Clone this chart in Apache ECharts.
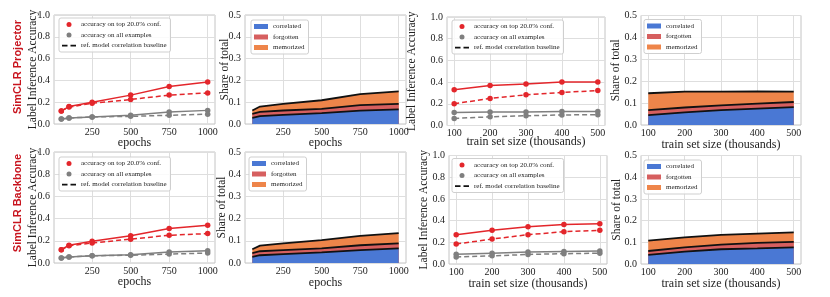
<!DOCTYPE html>
<html>
<head>
<meta charset="utf-8">
<script src="https://cdn.jsdelivr.net/npm/echarts@6/dist/echarts.min.js"></script>
<style>
html,body{margin:0;padding:0;background:#fff;overflow:hidden;}
#chart{width:830px;height:297px;}
</style>
</head>
<body>
<div id="chart"></div>
<script>
// ---------- data ----------
const epochs = [50, 100, 250, 500, 750, 1000];
const trainSizes = [100, 200, 300, 400, 500];
const epochTicks = [250, 500, 750, 1000];
const trainTicks = [100, 200, 300, 400, 500];

// SimCLR Projector, vs epochs
const projEpTop = [0.12, 0.16, 0.20, 0.265, 0.345, 0.385];
const projEpTopBase = [0.12, 0.155, 0.19, 0.225, 0.265, 0.285];
const projEpAll = [0.045, 0.055, 0.065, 0.08, 0.11, 0.125];
const projEpAllBase = [0.045, 0.055, 0.065, 0.07, 0.08, 0.09];
const projEpCorrelated = [0.028, 0.036, 0.042, 0.050, 0.061, 0.067];
const projEpForgotten = [0.019, 0.020, 0.020, 0.019, 0.026, 0.025];
const projEpMemorized = [0.015, 0.024, 0.030, 0.040, 0.050, 0.058];

// SimCLR Projector, vs train set size
const projTrTop = [0.33, 0.368, 0.383, 0.40, 0.40];
const projTrTopBase = [0.20, 0.25, 0.283, 0.305, 0.322];
const projTrAll = [0.12, 0.125, 0.125, 0.128, 0.128];
const projTrAllBase = [0.065, 0.08, 0.09, 0.097, 0.10];
const projTrCorrelated = [0.045, 0.058, 0.068, 0.075, 0.082];
const projTrForgotten = [0.023, 0.022, 0.022, 0.023, 0.023];
const projTrMemorized = [0.077, 0.072, 0.062, 0.055, 0.047];

// SimCLR Backbone, vs epochs
const bbEpTop = [0.12, 0.16, 0.195, 0.245, 0.31, 0.34];
const bbEpTopBase = [0.12, 0.155, 0.18, 0.215, 0.25, 0.265];
const bbEpAll = [0.045, 0.055, 0.065, 0.075, 0.10, 0.11];
const bbEpAllBase = [0.045, 0.055, 0.065, 0.07, 0.08, 0.09];
const bbEpCorrelated = [0.028, 0.035, 0.040, 0.048, 0.058, 0.066];
const bbEpForgotten = [0.017, 0.018, 0.018, 0.018, 0.022, 0.022];
const bbEpMemorized = [0.017, 0.025, 0.030, 0.037, 0.042, 0.047];

// SimCLR Backbone, vs train set size
const bbTrTop = [0.27, 0.31, 0.343, 0.365, 0.37];
const bbTrTopBase = [0.184, 0.23, 0.27, 0.298, 0.31];
const bbTrAll = [0.09, 0.10, 0.11, 0.115, 0.12];
const bbTrAllBase = [0.065, 0.075, 0.088, 0.095, 0.10];
const bbTrCorrelated = [0.042, 0.057, 0.068, 0.072, 0.077];
const bbTrForgotten = [0.018, 0.020, 0.021, 0.025, 0.025];
const bbTrMemorized = [0.048, 0.046, 0.045, 0.043, 0.044];

const rowLabels = ['SimCLR Projector', 'SimCLR Backbone'];
const NAME_TOP = 'accuracy on top 20.0% conf.';
const NAME_ALL = 'accuracy on all examples';
const NAME_BASE = 'ref. model correlation baseline';
const NAME_COR = 'correlated', NAME_FOR = 'forgotten', NAME_MEM = 'memorized';

// ---------- styles ----------
const SERIF = '"Liberation Serif","DejaVu Serif",serif';
const RED = '#e3262b', GRAY = '#7f7f7f';
const BLUE = '#4a78d4', ROSE = '#d65f5f', ORANGE = '#ee854a';
const DASH_ICON = 'path://M0,0L0,5L0,0Z M0,1.7h5.5v1.7h-5.5z M8.5,1.7h5.5v1.7h-5.5z';

const panels = [
  {kind:'acc', xs:epochs, ticks:epochTicks, xmin:2.5, xmax:1047.5, xname:'epochs', yGap:15, xGap:13,
   g:{left:54, top:15, width:161, height:109}, lg:{left:59, top:18},
   d:[projEpTop, projEpTopBase, projEpAll, projEpAllBase]},
  {kind:'share', xs:epochs, ticks:epochTicks, xmin:2.5, xmax:1047.5, xname:'epochs', yGap:14, xGap:13,
   g:{left:245, top:15, width:161, height:109}, lg:{left:251, top:20},
   d:[projEpCorrelated, projEpForgotten, projEpMemorized]},
  {kind:'acc', xs:trainSizes, ticks:trainTicks, xmin:80, xmax:520, xname:'train set size (thousands)', yGap:29, xGap:10.5,
   g:{left:447, top:17, width:158, height:108.5}, lg:{left:452, top:20},
   d:[projTrTop, projTrTopBase, projTrAll, projTrAllBase]},
  {kind:'share', xs:trainSizes, ticks:trainTicks, xmin:80, xmax:520, xname:'train set size (thousands)', yGap:19, xGap:13.5,
   g:{left:641, top:15.5, width:160, height:109.5}, lg:{left:644, top:19.5},
   d:[projTrCorrelated, projTrForgotten, projTrMemorized]},
  {kind:'acc', xs:epochs, ticks:epochTicks, xmin:2.5, xmax:1047.5, xname:'epochs', yGap:15, xGap:13,
   g:{left:54, top:152, width:161, height:111}, lg:{left:59, top:157},
   d:[bbEpTop, bbEpTopBase, bbEpAll, bbEpAllBase]},
  {kind:'share', xs:epochs, ticks:epochTicks, xmin:2.5, xmax:1047.5, xname:'epochs', yGap:17.5, xGap:14,
   g:{left:245, top:152, width:161, height:111}, lg:{left:249, top:157},
   d:[bbEpCorrelated, bbEpForgotten, bbEpMemorized]},
  {kind:'acc', xs:trainSizes, ticks:trainTicks, xmin:80, xmax:520, xname:'train set size (thousands)', yGap:19.5, xGap:14,
   g:{left:449, top:155.5, width:158, height:108.5}, lg:{left:452, top:158.5},
   d:[bbTrTop, bbTrTopBase, bbTrAll, bbTrAllBase]},
  {kind:'share', xs:trainSizes, ticks:trainTicks, xmin:80, xmax:520, xname:'train set size (thousands)', yGap:18, xGap:13.5,
   g:{left:641, top:155.5, width:160, height:108.5}, lg:{left:644, top:160},
   d:[bbTrCorrelated, bbTrForgotten, bbTrMemorized]}
];

const grid = [], xAxis = [], yAxis = [], legend = [], series = [];
const pair = (xs, ys) => xs.map((x, i) => [x, ys[i]]);
const cumsum = (...layers) => layers[0].map((_, i) => layers.reduce((s, l) => s + l[i], 0));

panels.forEach((p, i) => {
  grid.push(Object.assign({show:true, borderColor:'#c4c4c4', borderWidth:1, backgroundColor:'#fff'}, p.g));
  xAxis.push({
    type:'value', gridIndex:i, min:p.xmin, max:p.xmax,
    axisLine:{show:false}, axisTick:{show:false, customValues:p.ticks},
    splitLine:{show:true, lineStyle:{color:'#dedede', width:1}},
    axisLabel:{customValues:p.ticks, formatter:v => String(v), fontFamily:SERIF, fontSize:10, color:'#222', margin:3},
    name:p.xname, nameLocation:'middle', nameGap:p.xGap, nameMoveOverlap:false,
    nameTextStyle:{fontFamily:SERIF, fontSize:12, color:'#222'}
  });
  const isAcc = p.kind === 'acc';
  yAxis.push({
    type:'value', gridIndex:i, min:0, max:isAcc ? 1 : 0.5, interval:isAcc ? 0.2 : 0.1,
    axisLine:{show:false}, axisTick:{show:false},
    splitLine:{show:true, lineStyle:{color:'#dedede', width:1}},
    axisLabel:{formatter:v => v.toFixed(1), fontFamily:SERIF, fontSize:10, color:'#222', margin:4},
    name:isAcc ? 'Label Inference Accuracy' : 'Share of total', nameLocation:'middle',
    nameGap:p.yGap, nameMoveOverlap:false,
    nameTextStyle:{fontFamily:SERIF, fontSize:11.5, color:'#222'}
  });
  const lgBase = {
    orient:'vertical', left:p.lg.left, top:p.lg.top, itemWidth:14, itemHeight:5, itemGap:3.5,
    padding:[3,4,3,3], borderColor:'#cfcfcf', borderWidth:1, borderRadius:2,
    backgroundColor:'rgba(255,255,255,0.85)', selectedMode:false,
    textStyle:{fontFamily:SERIF, fontSize:7, color:'#222'}
  };
  if (isAcc) {
    legend.push(Object.assign(lgBase, {data:[{name:NAME_TOP, icon:'circle'}, {name:NAME_ALL, icon:'circle'}, {name:NAME_BASE, icon:DASH_ICON}]}));
    const mk = (name, ys, color, dashed, z) => ({
      type:'line', name, xAxisIndex:i, yAxisIndex:i, data:pair(p.xs, ys),
      symbol:'circle', symbolSize:5.5, z,
      itemStyle:{color}, lineStyle:{color, width:1.5, type:dashed ? [5,3] : 'solid'},
      emphasis:{disabled:true}, animation:false
    });
    series.push(mk(NAME_ALL, p.d[2], GRAY, false, 2));
    series.push(mk('all baseline', p.d[3], GRAY, true, 2));
    series.push(mk(NAME_TOP, p.d[0], RED, false, 3));
    series.push(mk('top baseline', p.d[1], RED, true, 3));
    series.push({type:'line', name:NAME_BASE, xAxisIndex:i, yAxisIndex:i, data:[], symbol:'none',
      itemStyle:{color:'#111'}, lineStyle:{color:'#111', width:1.5, type:[4,2]}, animation:false});
  } else {
    legend.push(Object.assign(lgBase, {itemGap:3.5, data:[{name:NAME_COR, icon:'rect'}, {name:NAME_FOR, icon:'rect'}, {name:NAME_MEM, icon:'rect'}]}));
    // stacked shares drawn as overlapping areas from the cumulative boundaries
    const layers = [
      [NAME_MEM, cumsum(p.d[0], p.d[1], p.d[2]), ORANGE, 2],
      [NAME_FOR, cumsum(p.d[0], p.d[1]), ROSE, 3],
      [NAME_COR, cumsum(p.d[0]), BLUE, 4]
    ];
    layers.forEach(([name, ys, color, z]) => series.push({
      type:'line', name, xAxisIndex:i, yAxisIndex:i, data:pair(p.xs, ys), z,
      symbol:'none', itemStyle:{color}, lineStyle:{color:'#111', width:1.8},
      areaStyle:{color, opacity:1}, emphasis:{disabled:true}, animation:false
    }));
  }
});

const rowFont = 'bold 11px "Liberation Sans", Arial, sans-serif';
const graphic = [
  {type:'text', rotation:Math.PI/2, x:18, y:67,
   style:{text:rowLabels[0], fill:'#c8141e', font:rowFont, align:'center', verticalAlign:'middle'}},
  {type:'text', rotation:Math.PI/2, x:18, y:203,
   style:{text:rowLabels[1], fill:'#c8141e', font:rowFont, align:'center', verticalAlign:'middle'}}
];

const chart = echarts.init(document.getElementById('chart'), null, {renderer:'canvas'});
chart.setOption({animation:false, backgroundColor:'#fff', grid, xAxis, yAxis, legend, series, graphic});
</script>
</body>
</html>
